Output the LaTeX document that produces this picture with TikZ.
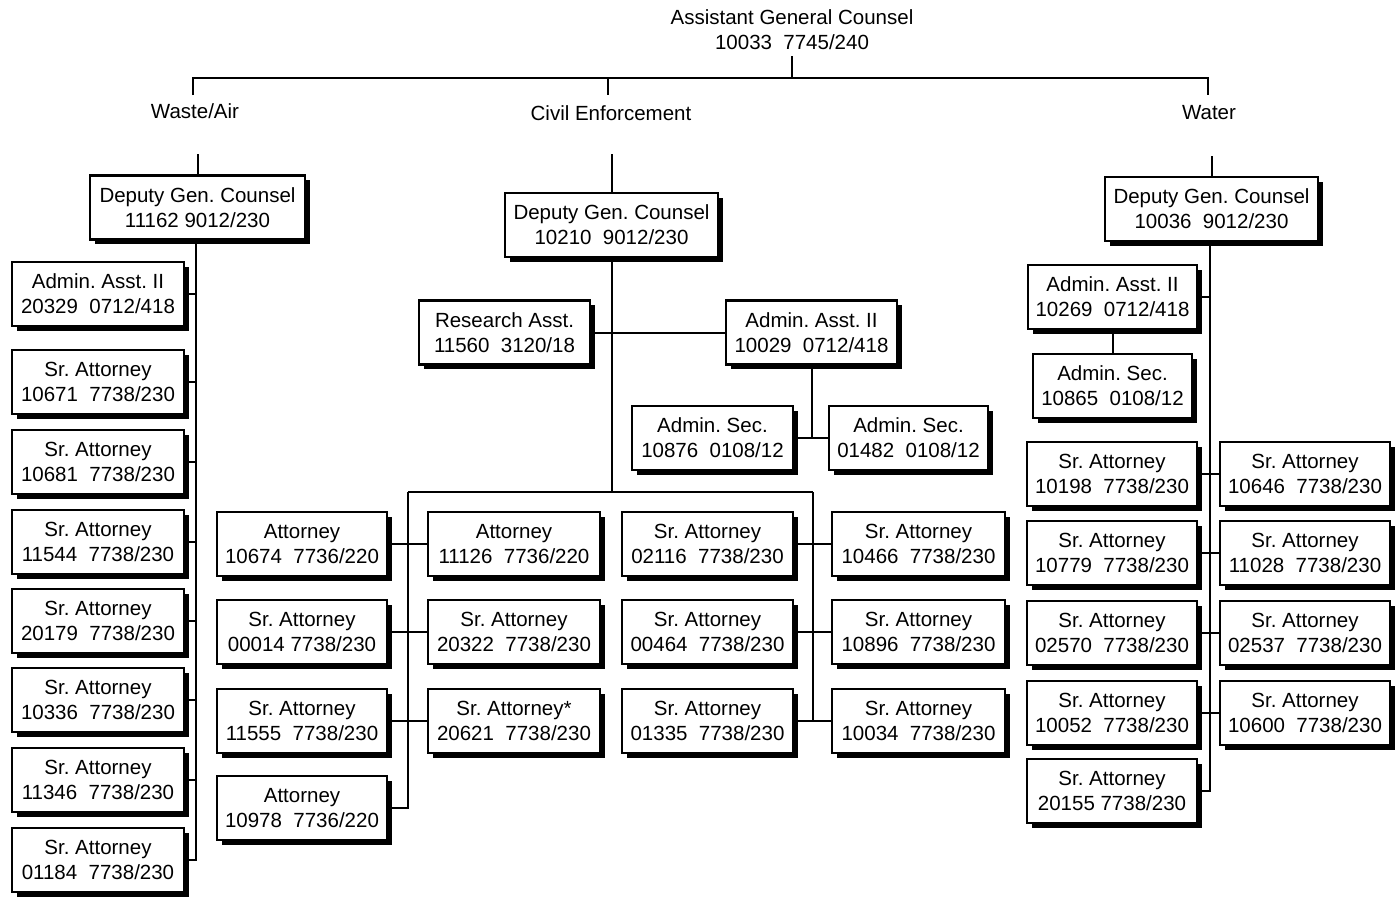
\documentclass[tikz,border=0pt]{standalone}
\usepackage{fontspec}
\setmainfont{Liberation Sans}
\usetikzlibrary{shadows}
\frenchspacing
\tikzset{
 box/.style={draw, line width=2.1pt, fill=white, align=center, inner sep=0pt,
   minimum height=64pt, font=\fontsize{20.5}{25}\selectfont,
   drop shadow={shadow xshift=4.5pt, shadow yshift=-4.5pt, fill=black, opacity=1}},
 lbl/.style={align=center, inner sep=0pt, font=\fontsize{20.5}{25}\selectfont},
 conn/.style={line width=2pt},
}
\newcommand\orgbox[5]{\node[box,minimum width=#4pt] (#1) at (#2,#3) {#5};}
\begin{document}
\begin{tikzpicture}[x=1pt,y=-1pt]
\useasboundingbox[fill=white] (0,0) rectangle (1395,902);

% top
\node[lbl] (agc) at (792,30) {Assistant General Counsel\\10033~~7745/240};
\coordinate (busL) at (193,78);
\coordinate (busM) at (608,78);
\coordinate (busT) at (792,78);
\coordinate (busR) at (1208,78);
\draw[conn] ([yshift=-6pt]agc.south) -- (busT);
\draw[conn] ([yshift=-17pt]busL) -- (busL) -- (busR) -- ([yshift=-17pt]busR);
\draw[conn] (busM) -- ([yshift=-17pt]busM);
\node[lbl] (lw) at (195,111) {Waste/Air};
\node[lbl] (lc) at (611,113) {Civil Enforcement};
\node[lbl] (lr) at (1209,113) {Water};

% Waste/Air
\orgbox{wd}{197.5}{207.5}{215}{Deputy Gen. Counsel\\11162 9012/230}
\orgbox{waa}{98}{294}{172}{Admin. Asst. II\\20329~~0712/418}
\orgbox{w1}{98}{382}{172}{Sr. Attorney\\10671~~7738/230}
\orgbox{w2}{98}{462}{172}{Sr. Attorney\\10681~~7738/230}
\orgbox{w3}{98}{542}{172}{Sr. Attorney\\11544~~7738/230}
\orgbox{w4}{98}{621}{172}{Sr. Attorney\\20179~~7738/230}
\orgbox{w5}{98}{700}{172}{Sr. Attorney\\10336~~7738/230}
\orgbox{w6}{98}{780}{172}{Sr. Attorney\\11346~~7738/230}
\orgbox{w7}{98}{860}{172}{Sr. Attorney\\01184~~7738/230}
\draw[conn] (wd.north) -- ++(0,-20);
\coordinate (wt) at (196,240);
\draw[conn] (wt) |- (w7.east);
\foreach \n in {waa,w1,w2,w3,w4,w5,w6} \draw[conn] (\n.east) -- (\n.east -| wt);

% Civil Enforcement
\orgbox{cd}{611.5}{225}{213}{Deputy Gen. Counsel\\10210~~9012/230}
\orgbox{cra}{504.5}{332.5}{171}{Research Asst.\\11560~~3120/18}
\orgbox{caa}{811.5}{332.5}{171}{Admin. Asst. II\\10029~~0712/418}
\orgbox{cs1}{712.5}{438}{161}{Admin. Sec.\\10876~~0108/12}
\orgbox{cs2}{908.5}{438}{159}{Admin. Sec.\\01482~~0108/12}
\draw[conn] (cd.north) -- ++(0,-38);
\coordinate (cbL) at (408,492);
\coordinate (cbR) at (813,492);
\draw[conn] (cd.south) -- (cd.south |- cbL);
\draw[conn] (cra.east) -- (caa.west);
\draw[conn] (caa.south) -- (caa.south |- cs1.east);
\draw[conn] (cs1.east) -- (cs2.west);

\orgbox{a1}{302}{544}{170}{Attorney\\10674~~7736/220}
\orgbox{a2}{302}{632}{170}{Sr. Attorney\\00014 7738/230}
\orgbox{a3}{302}{721}{170}{Sr. Attorney\\11555~~7738/230}
\orgbox{a4}{302}{808}{170}{Attorney\\10978~~7736/220}
\orgbox{b1}{514}{544}{172}{Attorney\\11126~~7736/220}
\orgbox{b2}{514}{632}{172}{Sr. Attorney\\20322~~7738/230}
\orgbox{b3}{514}{721}{172}{Sr. Attorney*\\20621~~7738/230}
\orgbox{c1}{707.5}{544}{171}{Sr. Attorney\\02116~~7738/230}
\orgbox{c2}{707.5}{632}{171}{Sr. Attorney\\00464~~7738/230}
\orgbox{c3}{707.5}{721}{171}{Sr. Attorney\\01335~~7738/230}
\orgbox{d1}{918.5}{544}{173}{Sr. Attorney\\10466~~7738/230}
\orgbox{d2}{918.5}{632}{173}{Sr. Attorney\\10896~~7738/230}
\orgbox{d3}{918.5}{721}{173}{Sr. Attorney\\10034~~7738/230}
\draw[conn] (cbL) -- (cbR);
\draw[conn] (cbL) |- (a4.east);
\draw[conn] (cbR) -- (cbR |- c3.east);
\draw[conn] (a1.east) -- (b1.west);
\draw[conn] (a2.east) -- (b2.west);
\draw[conn] (a3.east) -- (b3.west);
\draw[conn] (c1.east) -- (d1.west);
\draw[conn] (c2.east) -- (d2.west);
\draw[conn] (c3.east) -- (d3.west);

% Water
\orgbox{dd}{1211.5}{209}{213}{Deputy Gen. Counsel\\10036~~9012/230}
\orgbox{xaa}{1112.5}{297}{169}{Admin. Asst. II\\10269~~0712/418}
\orgbox{xas}{1112.5}{386}{159}{Admin. Sec.\\10865~~0108/12}
\orgbox{p1}{1112}{474}{170}{Sr. Attorney\\10198~~7738/230}
\orgbox{p2}{1112}{553}{170}{Sr. Attorney\\10779~~7738/230}
\orgbox{p3}{1112}{633}{170}{Sr. Attorney\\02570~~7738/230}
\orgbox{p4}{1112}{713}{170}{Sr. Attorney\\10052~~7738/230}
\orgbox{p5}{1112}{791}{170}{Sr. Attorney\\20155 7738/230}
\orgbox{q1}{1305}{474}{170}{Sr. Attorney\\10646~~7738/230}
\orgbox{q2}{1305}{553}{170}{Sr. Attorney\\11028~~7738/230}
\orgbox{q3}{1305}{633}{170}{Sr. Attorney\\02537~~7738/230}
\orgbox{q4}{1305}{713}{170}{Sr. Attorney\\10600~~7738/230}
\draw[conn] (dd.north) -- ++(0,-20);
\coordinate (xt) at (1210,241);
\draw[conn] (xt) |- (p5.east);
\draw[conn] (xaa.east) -- (xaa.east -| xt);
\draw[conn] (xaa.south) -- (xas.north);
\foreach \i in {1,2,3,4} \draw[conn] (p\i.east) -- (q\i.west);
\end{tikzpicture}
\end{document}
